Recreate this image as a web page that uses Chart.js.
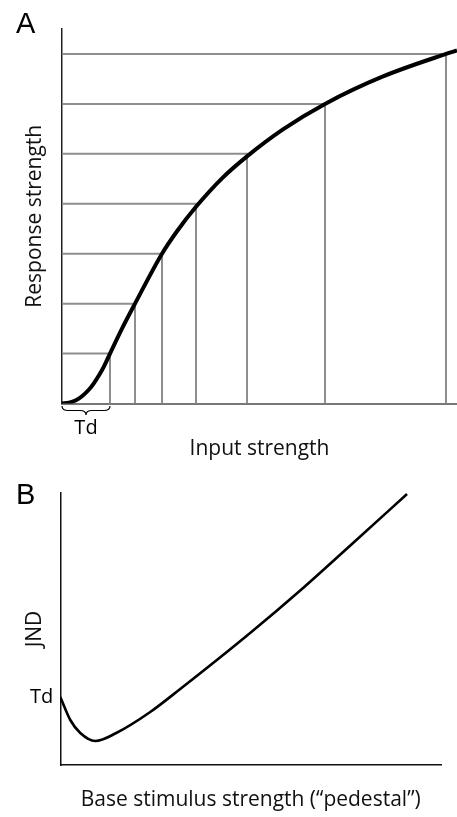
<!DOCTYPE html>
<html>
<head>
<meta charset="utf-8">
<title>Response strength and JND</title>
<script src="https://cdn.jsdelivr.net/npm/chart.js@4.4.1/dist/chart.umd.min.js"></script>
<style>
	body { margin: 0; background: #fff; }
	canvas { display: block; }
</style>
</head>
<body>
<canvas id="chartA" width="457" height="470"></canvas>
<canvas id="chartB" width="457" height="347"></canvas>
<script>
// panel A - response vs input (arbitrary units)
const inputStrength = [0, 7, 14, 20, 27, 32, 37, 42, 48, 60, 73, 100, 115, 134, 160, 185, 221, 263, 321, 384, 395];
const responseStrength = [0, 0.015, 0.066, 0.146, 0.28, 0.41, 0.565, 0.745, 1.0, 1.5, 2.0, 3.0, 3.45, 3.94, 4.51, 4.95, 5.49, 6.0, 6.55, 7.0, 7.07];
const stepInputs = [48, 73, 100, 134, 185, 263, 384];
const stepResponses = [1, 2, 3, 4, 5, 6, 7];

// panel B - JND vs base stimulus (pedestal)
const pedestal = [0, 10, 20, 35, 56, 90, 120, 190, 243, 293, 347];
const jnd = [68, 45, 32, 24, 32, 53, 76, 132, 177, 222, 271];
const tdValue = 68;

Chart.defaults.font.family = "'Open Sans', 'Noto Sans', sans-serif";
Chart.defaults.color = "#111";

const titleFont = { size: 21 };

const braceA = {
	id: "braceA",
	afterDraw: (chart) => {
		const ctx = chart.ctx;
		const xScale = chart.scales.x;
		const bottom = chart.chartArea.bottom;
		ctx.save();
		ctx.fillStyle = "#000";
		ctx.font = "29px 'Liberation Sans', Arial, sans-serif";
		ctx.fillText("A", 16, 33);

		const x0 = xScale.getPixelForValue(0);
		const x1 = xScale.getPixelForValue(stepInputs[0]);
		const mid = (x0 + x1) / 2;
		const y0 = bottom + 2.5;
		const h = 9;
		const r = 6;
		ctx.strokeStyle = "#000";
		ctx.lineWidth = 1.2;
		ctx.beginPath();
		ctx.moveTo(x0, y0);
		ctx.quadraticCurveTo(x0, y0 + h / 2, x0 + r, y0 + h / 2);
		ctx.lineTo(mid - r, y0 + h / 2);
		ctx.quadraticCurveTo(mid, y0 + h / 2, mid, y0 + h);
		ctx.quadraticCurveTo(mid, y0 + h / 2, mid + r, y0 + h / 2);
		ctx.lineTo(x1 - r, y0 + h / 2);
		ctx.quadraticCurveTo(x1, y0 + h / 2, x1, y0);
		ctx.stroke();

		ctx.font = "20px 'Open Sans', sans-serif";
		ctx.textAlign = "center";
		ctx.textBaseline = "middle";
		ctx.fillText("Td", mid, bottom + 25);
		ctx.restore();
	},
};

const labelB = {
	id: "labelB",
	afterDraw: (chart) => {
		const ctx = chart.ctx;
		const yScale = chart.scales.y;
		ctx.save();
		ctx.fillStyle = "#000";
		ctx.font = "29px 'Liberation Sans', Arial, sans-serif";
		ctx.fillText("B", 16, 33.5);
		ctx.font = "20px 'Open Sans', sans-serif";
		ctx.textAlign = "right";
		ctx.textBaseline = "middle";
		ctx.fillText("Td", chart.chartArea.left - 7, yScale.getPixelForValue(tdValue));
		ctx.restore();
	},
};

const curveA = inputStrength.map((x, i) => ({ x: x, y: responseStrength[i] }));
const stepSets = stepInputs.map((x, i) => ({
	data: [
		{ x: 0, y: stepResponses[i] },
		{ x: x, y: stepResponses[i] },
		{ x: x, y: 0 },
	],
	borderColor: "#8e8e8e",
	borderWidth: 2,
	pointRadius: 0,
	showLine: true,
	tension: 0,
}));

new Chart(document.getElementById("chartA"), {
	type: "scatter",
	data: {
		datasets: [
			{
				data: curveA,
				borderColor: "#000",
				borderWidth: 4,
				pointRadius: 0,
				showLine: true,
				cubicInterpolationMode: "monotone",
			},
			...stepSets,
		],
	},
	options: {
		responsive: false,
		animation: false,
		devicePixelRatio: 1,
		layout: { padding: { left: 22.9, right: 0, top: 29, bottom: 8.4 } },
		plugins: { legend: { display: false }, tooltip: { enabled: false } },
		scales: {
			x: {
				min: 0,
				max: 395,
				grid: { display: false, drawTicks: false },
				ticks: { display: false },
				border: { color: "#777", width: 2 },
				title: {
					display: true,
					text: "Input strength",
					font: titleFont,
					padding: { top: 32.9, bottom: 0 },
				},
			},
			y: {
				min: 0,
				max: 7.5,
				grid: { display: false, drawTicks: false },
				ticks: { display: false },
				border: { color: "#222", width: 1.5 },
				title: {
					display: true,
					text: "Response strength",
					font: titleFont,
					padding: { top: 0, bottom: 13.9 },
				},
			},
		},
	},
	plugins: [braceA],
});

new Chart(document.getElementById("chartB"), {
	type: "scatter",
	data: {
		datasets: [
			{
				data: pedestal.map((x, i) => ({ x: x, y: jnd[i] })),
				borderColor: "#000",
				borderWidth: 2.6,
				pointRadius: 0,
				showLine: true,
				cubicInterpolationMode: "monotone",
			},
		],
	},
	options: {
		responsive: false,
		animation: false,
		devicePixelRatio: 1,
		layout: { padding: { left: 22.9, right: 16, top: 23, bottom: 4.4 } },
		plugins: { legend: { display: false }, tooltip: { enabled: false } },
		scales: {
			x: {
				min: 0,
				max: 381,
				grid: { display: false, drawTicks: false },
				ticks: { display: false },
				border: { color: "#111", width: 1.5 },
				title: {
					display: true,
					text: "Base stimulus strength (\u201cpedestal\u201d)",
					font: titleFont,
					padding: { top: 22.4, bottom: 0 },
				},
			},
			y: {
				min: 0,
				max: 272,
				grid: { display: false, drawTicks: false },
				ticks: { display: false },
				border: { color: "#111", width: 1.5 },
				title: {
					display: true,
					text: "JND",
					font: titleFont,
					padding: { top: 0, bottom: 12.2 },
				},
			},
		},
	},
	plugins: [labelB],
});
</script>
</body>
</html>
